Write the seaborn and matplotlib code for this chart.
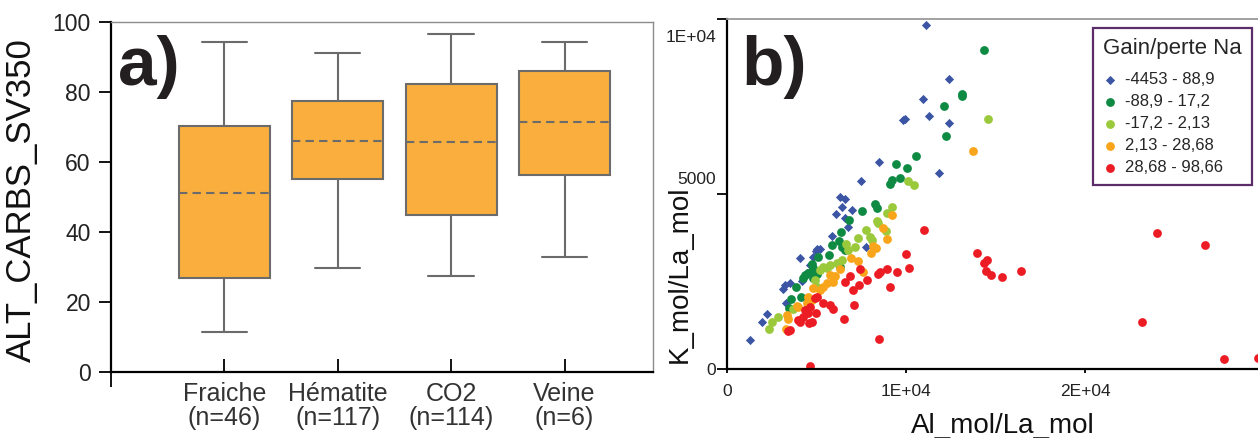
import numpy as np
import pandas as pd
import matplotlib
matplotlib.use("Agg")
import matplotlib.pyplot as plt
import matplotlib.transforms as mtrans
import seaborn as sns

# a) boxplot : min, Q1, mediane, Q3, max
etats = ["Fraiche", "Hématite", "CO2", "Veine"]
n_obs = [46, 117, 114, 6]
fraiche = [11.5, 26.9, 51.0, 70.1, 94.1]
hematite = [29.8, 55.2, 65.9, 77.4, 91.2]
co2 = [27.3, 44.8, 65.6, 82.1, 96.4]
veine = [32.7, 56.1, 71.5, 85.9, 94.3]

# b) Al_mol/La_mol vs K_mol/La_mol par classe de gain/perte Na
classes = ["-4453 - 88,9", "-88,9 - 17,2", "-17,2 - 2,13", "2,13 - 28,68", "28,68 - 98,66"]
al_c1 = [11100, 12420, 10930, 11290, 9850, 9960, 12420, 8480, 11840, 7490, 6310, 6590, 6410, 7000,
         6110, 6590, 6760, 5880, 7770, 5050, 5200, 4970, 4080, 4790, 4640, 4450, 4190, 3540, 3240,
         3150, 3300, 2250, 1970, 1290]
k_c1 = [9830, 8290, 7710, 7240, 7110, 7160, 7030, 5910, 5600, 5390, 4920, 4850, 4620, 4550,
        4420, 4310, 4050, 3800, 3480, 3430, 3440, 3370, 3170, 3200, 2970, 2750, 2520, 2470, 2400,
        2280, 1890, 1560, 1350, 820]
al_c2 = [14360, 13150, 13150, 12140, 12250, 10540, 9440, 10040, 9670, 9200, 9120, 7530, 8270, 8360,
         6820, 6370, 5870, 6260, 6410, 6590, 5720, 5100, 4730, 4820, 4360, 4530, 4250, 4750, 3840,
         3580, 4120, 3480, 6310, 5050, 4820]
k_c2 = [9120, 7860, 7810, 7510, 6650, 6090, 5850, 5750, 5460, 5400, 5280, 4510, 4710, 4590,
        4270, 3920, 3540, 3670, 3480, 3400, 3250, 3190, 3000, 2880, 2690, 2740, 2600, 2770, 2350,
        2000, 2070, 1750, 2920, 2730, 2590]
al_c3 = [14600, 10100, 10450, 9220, 8920, 8360, 8450, 7770, 7990, 8080, 8880, 7340, 7150, 6650,
         6410, 6780, 5380, 5570, 5200, 5750, 4920, 5010, 3700, 2870, 2510, 2350, 6130]
k_c3 = [7160, 5390, 5260, 4620, 4470, 4230, 4180, 3970, 3780, 3690, 3940, 3750, 3490, 3570,
        3110, 3400, 2920, 2880, 2830, 2970, 2540, 2350, 1710, 1490, 1350, 1150, 3020]
al_c4 = [13740, 9200, 8730, 8960, 8170, 8310, 8050, 7340, 6910, 7580, 6310, 5750, 5940, 5570,
         5380, 4790, 4540, 4730, 4450, 3890, 3980, 3340, 3420, 3300, 6030, 5200]
k_c4 = [6230, 4390, 4040, 3710, 3510, 3450, 3320, 3080, 3160, 2760, 2850, 2690, 2490, 2450,
        2350, 2310, 2070, 1970, 1880, 1800, 1780, 1540, 1420, 1140, 2660, 2260]
al_c5 = [11020, 13980, 14360, 14540, 14450, 14730, 15360, 16410, 24010, 26720, 23170, 27780, 29650,
         9980, 10170, 9480, 8920, 8450, 8550, 9110, 7800, 7390, 7060, 7430, 6870, 6590, 7100, 5750,
         5940, 5350, 5050, 4920, 4970, 4640, 4540, 4360, 4260, 4730, 4600, 3980, 4080, 3520, 3420,
         6540, 8490, 4640]
k_c5 = [3970, 3310, 3040, 3110, 2810, 2690, 2620, 2790, 3890, 3540, 1330, 290, 310,
        3280, 2890, 2760, 2850, 2730, 2760, 2340, 2550, 2410, 2260, 2860, 2670, 2490, 1820, 1830,
        1710, 1880, 2070, 2020, 1590, 1780, 1590, 1690, 1490, 1350, 1310, 1400, 1350, 1110, 1090,
        1420, 850, 90]

couleurs = ["#3b54a4", "#0f8a43", "#9bc93c", "#f9a51b", "#ec1c24"]
marqueurs = ["D", "o", "o", "o", "o"]
tailles = [22, 40, 40, 40, 40]

sns.set_theme(style="ticks")
plt.rcParams["font.family"] = ["Liberation Sans", "DejaVu Sans"]
gris = "#6b6b6b"

fig = plt.figure(figsize=(12.58, 4.38), dpi=100)
ax1 = fig.add_axes([111 / 1258, 1 - 372 / 438, 542 / 1258, 350.3 / 438])
ax2 = fig.add_axes([727 / 1258, 1 - 369 / 438, 531 / 1258, 349.7 / 438])

# ---------- a) ----------
box_df = pd.DataFrame({"etat": np.repeat(etats, 5),
                       "val": np.concatenate([fraiche, hematite, co2, veine])})
sns.boxplot(data=box_df, x="etat", y="val", order=etats, ax=ax1, color="#f9ae3e",
            saturation=1, linecolor=gris, linewidth=1.5, width=0.8, whis=(0, 100),
            medianprops={"linestyle": (0, (4, 2.5))})
ax1.set_xlim(-1.0, 3.78)
ax1.set_ylim(0, 100)
ax1.set_yticks(range(0, 101, 20))
ax1.set_xticks(range(len(etats)))
ax1.set_xticklabels([f"{e}\n(n={n})" for e, n in zip(etats, n_obs)],
                    fontsize=18, linespacing=1.0, color="#333333")
ax1.set_xticks([-1.0], minor=True)
ax1.tick_params(axis="y", direction="out", length=8.5, width=1.3, color="black",
                labelsize=16.5, pad=6, labelcolor="#222222")
ax1.tick_params(axis="x", which="major", direction="in", length=9.5, width=1.3,
                color="black", pad=7)
ax1.tick_params(axis="x", which="minor", direction="out", length=11, width=1.3, color="black")
ax1.set_xlabel("")
ax1.set_ylabel("ALT_CARBS_SV350", fontsize=25, color="#111111")
ax1.yaxis.set_label_coords(-0.135, 0.49)
for s in ["left", "bottom"]:
    ax1.spines[s].set_color("black")
    ax1.spines[s].set_linewidth(1.6)
for s in ["top", "right"]:
    ax1.spines[s].set_visible(True)
    ax1.spines[s].set_color("#8c8c8c")
    ax1.spines[s].set_linewidth(1.0)
ax1.text(0.013, 0.819, "a)", transform=ax1.transAxes, fontsize=50, fontweight="bold",
         va="baseline", ha="left", color="#231f20")

# ---------- b) ----------
series = [(al_c1, k_c1), (al_c2, k_c2), (al_c3, k_c3), (al_c4, k_c4), (al_c5, k_c5)]
for (al, k), lab, c, m, s in zip(series, classes, couleurs, marqueurs, tailles):
    d = pd.DataFrame({"al": al, "k": k})
    sns.scatterplot(data=d, x="al", y="k", ax=ax2, color=c, marker=m, s=s,
                    linewidth=0, label=lab)
ax2.set_xlim(0, 29665)
ax2.set_ylim(0, 10000)
ax2.set_xticks([0, 10000, 20000])
ax2.set_xticklabels(["0", "1E+04", "2E+04"])
ax2.set_yticks([0, 5000, 10000])
ax2.set_yticklabels(["0", "5000", "1E+04"])
ax2.tick_params(axis="x", direction="out", length=3, width=1.3, color="black",
                labelsize=12.5, pad=8, labelcolor="#222222")
ax2.tick_params(axis="y", direction="out", length=7, width=1.3, color="black",
                labelsize=12.5, pad=1, labelcolor="#222222")
decal = [0, 11.5, -12]
for lab, dy in zip(ax2.get_yticklabels(), decal):
    lab.set_transform(lab.get_transform() + mtrans.ScaledTranslation(0, dy / 72, fig.dpi_scale_trans))
ax2.set_xlabel("Al_mol/La_mol", fontsize=20, color="#111111")
ax2.xaxis.set_label_coords(0.52, -0.125)
ax2.set_ylabel("K_mol/La_mol", fontsize=20, color="#111111")
ax2.yaxis.set_label_coords(-0.065, 0.27)
for s in ["left", "bottom"]:
    ax2.spines[s].set_color("black")
    ax2.spines[s].set_linewidth(1.6)
ax2.spines["top"].set_visible(True)
ax2.spines["top"].set_color("#9a9a9a")
ax2.spines["top"].set_linewidth(1.3)
ax2.spines["right"].set_visible(False)
ax2.text(0.028, 0.812, "b)", transform=ax2.transAxes, fontsize=50, fontweight="bold",
         va="baseline", ha="left", color="#231f20")

leg = ax2.legend(title="Gain/perte Na", loc="upper left", bbox_to_anchor=(0.689, 0.974),
                 frameon=True, fancybox=False, edgecolor="#5c2d6a", fontsize=12,
                 title_fontsize=16, handlelength=0.8, handletextpad=0.5,
                 labelspacing=0.42, borderpad=0.6, borderaxespad=0)
leg.get_frame().set_linewidth(1.6)
leg.get_frame().set_alpha(1)
leg._legend_box.align = "left"
leg._legend_box.sep = 9

fig.savefig("out.png", dpi=100)
